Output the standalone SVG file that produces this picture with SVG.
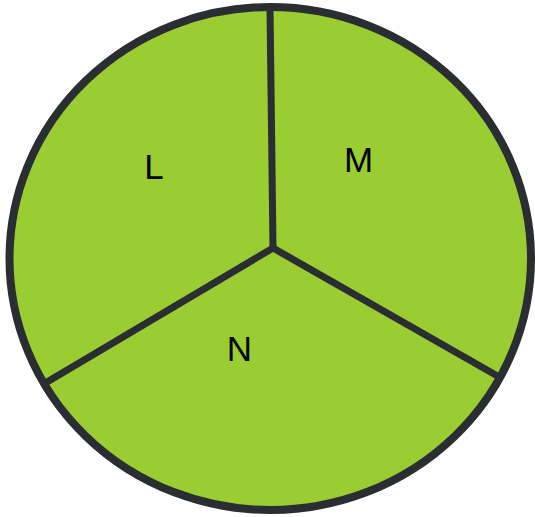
<svg xmlns="http://www.w3.org/2000/svg" width="535" height="517" viewBox="0 0 535 517">
<style>
.lbl{font-family:"Liberation Sans",Arial,sans-serif;font-size:35px;fill:#000;text-anchor:middle}
.ln{stroke:#2a2d31;stroke-width:7;fill:none;stroke-linecap:butt}
</style>
<g id="circle">
<ellipse cx="270.25" cy="258.5" rx="260.75" ry="251.5" fill="#9acd32" stroke="#2a2d31" stroke-width="8"/>
</g>
<g id="connectors">
<line class="ln" x1="273" y1="248" x2="270" y2="8"/>
<line class="ln" x1="273" y1="248" x2="47" y2="382"/>
<line class="ln" x1="273" y1="248" x2="501" y2="378"/>
</g>
<g id="L"><text class="lbl" x="154" y="179">L</text></g>
<g id="M"><text class="lbl" x="358.5" y="172">M</text></g>
<g id="N"><text class="lbl" x="239.5" y="361">N</text></g>
</svg>
